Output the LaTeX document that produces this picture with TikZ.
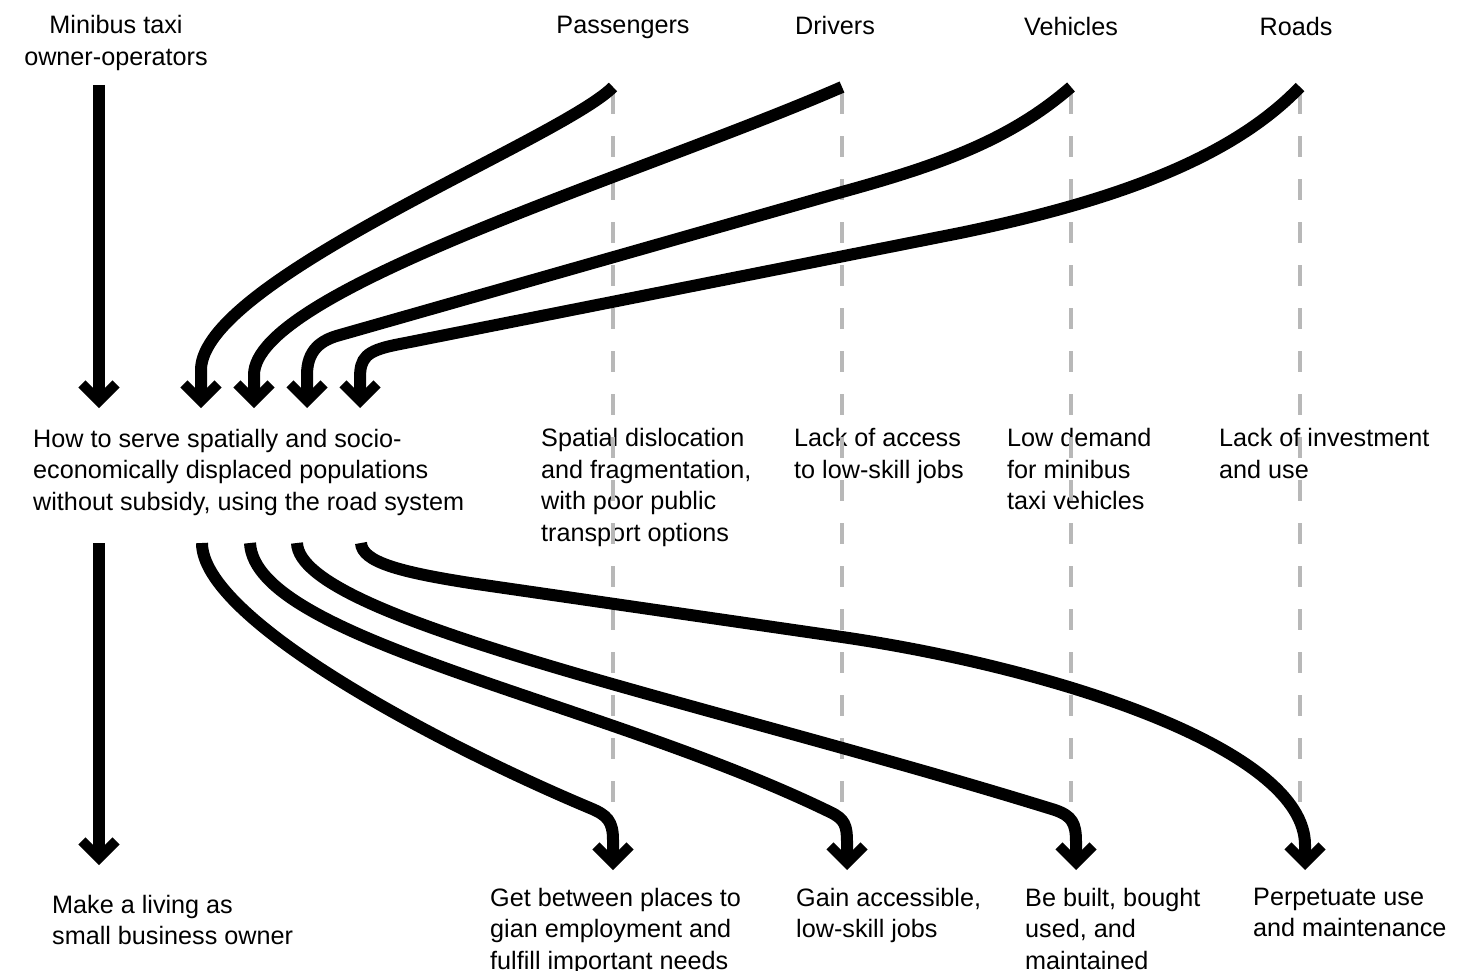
\documentclass[tikz,border=0pt]{standalone}
\usepackage{fontspec}
\setmainfont{Liberation Sans}
\usetikzlibrary{arrows.meta}
\definecolor{guidegray}{RGB}{184,184,184}
\begin{document}
\begin{tikzpicture}[x=1pt,y=-1pt,
  lbl/.style={inner sep=0pt, align=left, font=\fontsize{25.2}{31.7}\selectfont},
  head/.style={inner sep=0pt, font=\fontsize{25.2}{31.7}\selectfont},
  flow/.style={line width=12pt, black,
    -{Straight Barb[length=17pt, width=34pt, line width=10pt 0]}},
  guide/.style={line width=3.5pt, guidegray, dash pattern=on 21pt off 22pt}]
\useasboundingbox (0,0) rectangle (1482,971);

% stakeholder headings
\node[head, align=center, anchor=north] (owners) at (116,15) {Minibus taxi\\owner-operators};
\node[head, anchor=base] (passengers) at (623,34) {Passengers};
\node[head, anchor=base] (drivers) at (835,35) {Drivers};
\node[head, anchor=base] (vehicles) at (1071,36) {Vehicles};
\node[head, anchor=base] (roads) at (1296,36) {Roads};

% problem statements
\node[lbl, anchor=north west] (problem) at (33,428.6)
  {How to serve spatially and socio-\\economically displaced populations\\without subsidy, using the road system};
\node[lbl, anchor=north west] (spatial) at (541,428) {Spatial dislocation\\and fragmentation,\\with poor public\\transport options};
\node[lbl, anchor=north west] (access) at (794,428) {Lack of access\\to low-skill jobs};
\node[lbl, anchor=north west] (demand) at (1007,428) {Low demand\\for minibus\\taxi vehicles};
\node[lbl, anchor=north west] (invest) at (1219,428) {Lack of investment\\and use};

% outcomes
\node[lbl, anchor=north west] (living) at (52,894.6) {Make a living as\\small business owner};
\node[lbl, anchor=north west] (places) at (490,887.6) {Get between places to\\gian employment and\\fulfill important needs};
\node[lbl, anchor=north west] (jobs) at (796,887.6) {Gain accessible,\\low-skill jobs};
\node[lbl, anchor=north west] (built) at (1025,887.6) {Be built, bought\\used, and\\maintained};
\node[lbl, anchor=north west] (perpetuate) at (1253,887.6) {Perpetuate use\\and maintenance};

% connector end points
\coordinate (oTop) at (99,85);
\coordinate (pTop) at (613,87);
\coordinate (dTop) at (842,87);
\coordinate (vTop) at (1071,87);
\coordinate (rTop) at (1300,87);
\coordinate (oIn) at (99,408);
\coordinate (pIn) at (201,408);
\coordinate (dIn) at (254,408);
\coordinate (vIn) at (307,408);
\coordinate (rIn) at (360,408);
\coordinate (oOut) at (99,543);
\coordinate (pOut) at (202,543);
\coordinate (dOut) at (250,543);
\coordinate (vOut) at (297,543);
\coordinate (rOut) at (361,543);
\coordinate (oEnd) at (99,865);
\coordinate (pEnd) at (613,870);
\coordinate (dEnd) at (847,870);
\coordinate (vEnd) at (1076,870);
\coordinate (rEnd) at (1305,870);

% dashed guide lines under each stakeholder
\foreach \gx in {613,842,1071,1300}
  \draw[guide] (\gx,93) -- (\gx,805);

% inflows into the problem
\draw[flow] (oTop) -- (oIn);
\draw[flow] (pTop) .. controls (560,140) and (201,280) .. (201,370) -- (pIn);
\draw[flow] (dTop) .. controls (640,175) and (254,290) .. (254,375) -- (dIn);
\draw[flow] (vTop) .. controls (1010,140) and (940,165) .. (842,192) -- (340,335)
  .. controls (321,340) and (307,350) .. (307,375) -- (vIn);
\draw[flow] (rTop) .. controls (1230,160) and (1110,202) .. (960,233) -- (395,345)
  .. controls (366,351) and (360,358) .. (360,378) -- (rIn);

% outflows to the outcomes
\draw[flow] (oOut) -- (oEnd);
\draw[flow] (pOut) .. controls (202,620) and (440,745) .. (590,808)
  .. controls (607,815) and (613,821) .. (613,840) -- (pEnd);
\draw[flow] (dOut) .. controls (255,640) and (600,700) .. (830,812)
  .. controls (845,819) and (847,826) .. (847,842) -- (dEnd);
\draw[flow] (vOut) .. controls (300,620) and (700,700) .. (1055,810)
  .. controls (1072,816) and (1076,823) .. (1076,842) -- (vEnd);
\draw[flow] (rOut) .. controls (362,562) and (400,572) .. (470,583) -- (842,637)
  .. controls (1060,669) and (1305,750) .. (1305,845) -- (rEnd);
\end{tikzpicture}
\end{document}
